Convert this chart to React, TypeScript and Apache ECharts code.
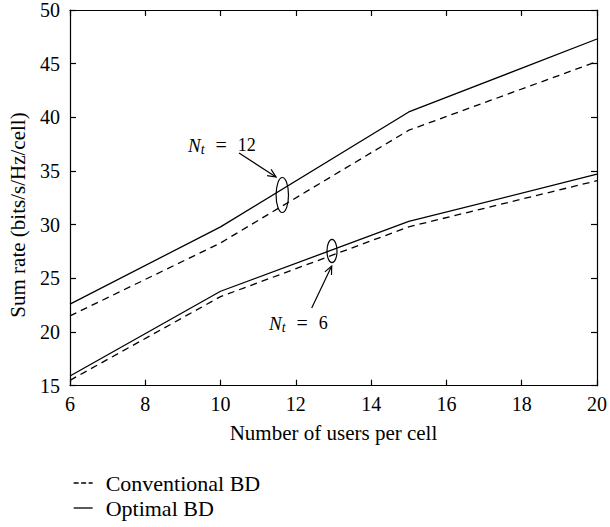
import React, { useEffect, useRef } from "react";
import * as echarts from "echarts";

const usersPerCell = [6, 10, 15, 20];
const optimalNt12 = [22.6, 29.8, 40.5, 47.3];
const conventionalNt12 = [21.5, 28.3, 38.8, 45.2];
const optimalNt6 = [15.9, 23.8, 30.3, 34.7];
const conventionalNt6 = [15.5, 23.3, 29.8, 34.1];

const FONT = "Liberation Serif";

function arrowHead(x1: number, y1: number, x2: number, y2: number, len = 9, ang = 0.42) {
  const a = Math.atan2(y2 - y1, x2 - x1);
  return [
    [x2 - len * Math.cos(a - ang), y2 - len * Math.sin(a - ang)],
    [x2, y2],
    [x2 - len * Math.cos(a + ang), y2 - len * Math.sin(a + ang)],
  ];
}

export default function App() {
  const ref = useRef<HTMLDivElement>(null);
  useEffect(() => {
    document.body.style.margin = "0";
    if (!ref.current) return;
    const chart = echarts.init(ref.current, null, { renderer: "svg" });
    const mk = (xs: number[], ys: number[]) => xs.map((x, i) => [x, ys[i]]);
    const solid = { color: "#000", width: 1.3, type: "solid" as const };
    const dashed = { color: "#000", width: 1.3, type: [7, 5] as any };
    const axisCommon = {
      axisLine: { show: true, lineStyle: { color: "#000", width: 1.2 } },
      axisTick: { show: true, inside: true, length: 6, lineStyle: { color: "#000", width: 1.2 } },
      splitLine: { show: false },
    };
    const txt = (x: number, y: number, num: string) => ({
      type: "text",
      x,
      y,
      style: {
        text: `{n|N}{t|t}{e|=}{r|${num}}`,
        rich: {
          n: { fontFamily: FONT, fontStyle: "italic", fontSize: 19, fill: "#000" },
          t: { fontFamily: FONT, fontStyle: "italic", fontSize: 14, fill: "#000", verticalAlign: "bottom", padding: [9, 1, 0, 0] },
          e: { fontFamily: FONT, fontSize: 20, fill: "#000", padding: [0, 11, 0, 10] },
          r: { fontFamily: FONT, fontSize: 18, fill: "#000" },
        },
        verticalAlign: "middle",
      },
    });
    const a12: [number, number, number, number] = [239, 153, 276, 177];
    const a6: [number, number, number, number] = [311.7, 308, 331.7, 266];
    chart.setOption({
      animation: false,
      grid: { left: 70, right: 10.5, top: 6, bottom: 141.3 },
      xAxis: [
        {
          type: "value",
          min: 6,
          max: 20,
          interval: 2,
          ...axisCommon,
          axisLabel: { color: "#000", fontFamily: FONT, fontSize: 20, margin: 8 },
          name: "Number of users per cell",
          nameLocation: "middle",
          nameGap: 37,
          nameTextStyle: { color: "#000", fontFamily: FONT, fontSize: 21 },
        },
        {
          type: "value",
          position: "top",
          min: 6,
          max: 20,
          interval: 2,
          ...axisCommon,
          axisLabel: { show: false },
        },
      ],
      yAxis: [
        {
          type: "value",
          min: 15,
          max: 50,
          interval: 5,
          ...axisCommon,
          axisLabel: { color: "#000", fontFamily: FONT, fontSize: 20, margin: 10 },
        },
        {
          type: "value",
          position: "right",
          min: 15,
          max: 50,
          interval: 5,
          ...axisCommon,
          axisLabel: { show: false },
        },
      ],
      legend: {
        orient: "vertical",
        left: 73,
        top: 472,
        padding: 0,
        itemWidth: 19,
        itemHeight: 12,
        itemGap: 3,
        itemStyle: { opacity: 0 },
        data: [
          { name: "Conventional BD", lineStyle: { type: [5, 2.5], width: 1.3, color: "#000" } },
          { name: "Optimal BD", lineStyle: { type: "solid", width: 1.3, color: "#000" } },
        ],
        textStyle: { color: "#000", fontFamily: FONT, fontSize: 22, padding: [0, 0, 0, 8] },
      },
      series: [
        { name: "Conventional BD", type: "line", symbol: "none", data: mk(usersPerCell, conventionalNt12), lineStyle: dashed, itemStyle: { color: "#000" } },
        { name: "Optimal BD", type: "line", symbol: "none", data: mk(usersPerCell, optimalNt12), lineStyle: solid, itemStyle: { color: "#000" } },
        { name: "Conventional BD", type: "line", symbol: "none", data: mk(usersPerCell, conventionalNt6), lineStyle: dashed, itemStyle: { color: "#000" } },
        { name: "Optimal BD", type: "line", symbol: "none", data: mk(usersPerCell, optimalNt6), lineStyle: solid, itemStyle: { color: "#000" } },
      ],
      graphic: [
        {
          type: "text",
          x: 17.5,
          y: 215,
          rotation: Math.PI / 2,
          style: { text: "Sum rate (bits/s/Hz/cell)", fontFamily: FONT, fontSize: 21, fill: "#000", align: "center", verticalAlign: "middle" },
        },
        { type: "ellipse", shape: { cx: 282.3, cy: 195, rx: 6.2, ry: 17.5 }, style: { fill: "none", stroke: "#000", lineWidth: 1.2 } },
        { type: "ellipse", shape: { cx: 332, cy: 251, rx: 5, ry: 11.7 }, style: { fill: "none", stroke: "#000", lineWidth: 1.2 } },
        { type: "line", shape: { x1: a12[0], y1: a12[1], x2: a12[2], y2: a12[3] }, style: { stroke: "#000", lineWidth: 1.2 } },
        { type: "polyline", shape: { points: arrowHead(...a12) }, style: { stroke: "#000", lineWidth: 1.2, fill: "none" } },
        { type: "line", shape: { x1: a6[0], y1: a6[1], x2: a6[2], y2: a6[3] }, style: { stroke: "#000", lineWidth: 1.2 } },
        { type: "polyline", shape: { points: arrowHead(...a6) }, style: { stroke: "#000", lineWidth: 1.2, fill: "none" } },
        txt(188, 145, "12"),
        txt(269, 323, "6"),
      ],
    });
    return () => chart.dispose();
  }, []);
  return <div ref={ref} style={{ width: 610, height: 527 }} />;
}
